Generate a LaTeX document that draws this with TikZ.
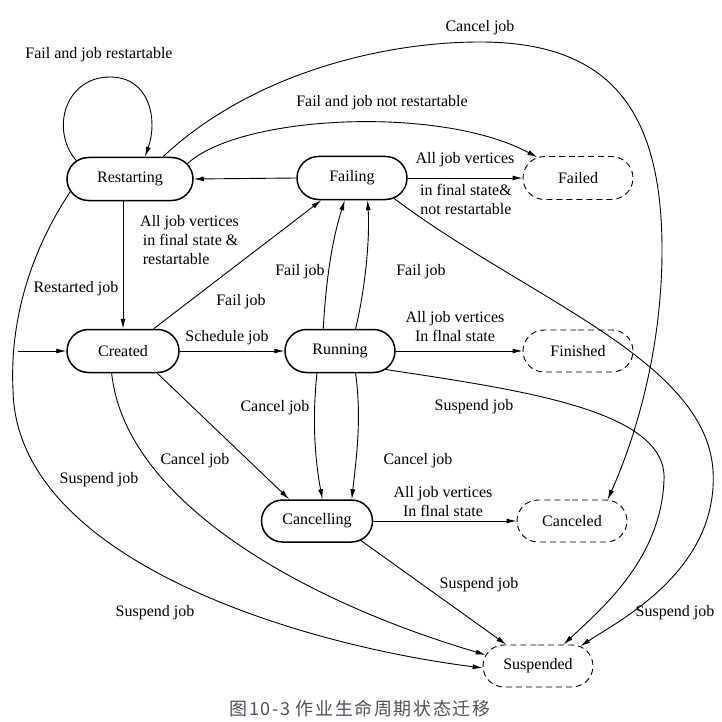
\documentclass[tikz,border=0pt]{standalone}
\usepackage{fontspec}
\setmainfont{Liberation Serif}
\newfontfamily\cjk[LetterSpace=9]{Noto Sans CJK SC}
\usetikzlibrary{shapes.misc,arrows.meta}
\definecolor{capgray}{HTML}{50505E}
\begin{document}
\begin{tikzpicture}[x=1pt,y=-1pt,
  state/.style={rounded rectangle, draw, line width=1.5pt, minimum width=110pt, minimum height=43pt, inner sep=0pt, font=\fontsize{16}{19}\selectfont},
  final/.style={state, line width=0.9pt, dash pattern=on 6pt off 4pt},
  lbl/.style={font=\fontsize{16}{19}\selectfont, inner sep=0pt, align=center},
  conn/.style={line width=0.9pt, -{Latex[length=10pt,width=5pt]}},
]
\useasboundingbox (0,0) rectangle (722,722);
% states
\node[state, minimum width=126pt] (restarting) at (130,179) {Restarting};
\node[state] (failing) at (352,178) {Failing};
\node[state, minimum width=112pt] (created) at (123,351) {Created};
\node[state] (running) at (340,351) {Running};
\node[state, minimum width=111pt, minimum height=42pt] (cancelling) at (317,521) {Cancelling};
\node[final] (failed) at (578,178) {Failed};
\node[final, minimum height=42pt] (finished) at (578,351) {Finished};
\node[final, minimum height=42pt] (canceled) at (572,521) {Canceled};
\node[final, minimum height=42pt] (suspended) at (538,666) {Suspended};
\coordinate (start) at (18,351);
% edges
\draw[conn] (start) -- (created.west);
\draw[conn] (restarting.161) .. controls (50,130) and (65,77) .. (110,77) .. controls (150,77) and (158,120) .. (restarting.56);
\draw[conn] (failing.west) -- (restarting.east);
\draw[conn] (restarting.15) .. controls (240,115) and (440,105) .. (failed.153);
\draw[conn] (restarting.34) .. controls (250,75) and (380,42) .. (480,42) .. controls (610,42) and (662,110) .. (662,250) .. controls (662,360) and (630,450) .. (canceled.31);
\draw[conn] (restarting.192) .. controls (25,260) and (10,330) .. (13,390) .. controls (16,560) and (300,645) .. (suspended.182);
\draw[conn] (restarting.south -| created.north) -- (created.north);
\draw[conn] (created.36) -- (failing.216);
\draw[conn] (created.east) -- (running.west);
\draw[conn] (created.-33) -- (cancelling.142);
\draw[conn] (created.243) .. controls (125,500) and (300,600) .. (suspended.168);
\draw[conn] (running.127) .. controls (326,280) and (332,240) .. (failing.252);
\draw[conn] (running.55) .. controls (365,290) and (370,240) .. (failing.305);
\draw[conn] (running.224) .. controls (312,420) and (315,460) .. (cancelling.76);
\draw[conn] (running.305) .. controls (362,420) and (356,460) .. (cancelling.32);
\draw[conn] (running.east) -- (finished.west);
\draw[conn] (running.-22) .. controls (520,390) and (668,410) .. (664,480) .. controls (661,560) and (600,610) .. (suspended.40);
\draw[conn] (failing.east) -- (failed.west);
\draw[conn] (failing.-26) .. controls (530,300) and (705,360) .. (713,470) .. controls (719,570) and (620,620) .. (suspended.25);
\draw[conn] (cancelling.east) -- (canceled.west);
\draw[conn] (cancelling.-24) -- (suspended.146);
% labels
\node[lbl] (l1) at (99,55) {Fail and job restartable};
\node[lbl] (l2) at (480,28) {Cancel job};
\node[lbl] (l3) at (382,103) {Fail and job not restartable};
\node[lbl] (l4) at (465,160) {All job vertices};
\node[lbl] (l5) at (466,199) {in final state\&\\not restartable};
\node[lbl, align=left, anchor=west] (l6) at (140,240) {All job vertices\\\,in final state \&\\\,restartable};
\node[lbl] (l7) at (76,289) {Restarted job};
\node[lbl] (l8) at (241,302) {Fail job};
\node[lbl] (l9) at (300,272) {Fail job};
\node[lbl] (l10) at (421,272) {Fail job};
\node[lbl] (l11) at (227,338) {Schedule job};
\node[lbl] (l12) at (455,327) {All job vertices\\In flnal state};
\node[lbl] (l13) at (474,407) {Suspend job};
\node[lbl] (l14) at (275,408) {Cancel job};
\node[lbl] (l15) at (195,461) {Cancel job};
\node[lbl] (l16) at (418,461) {Cancel job};
\node[lbl] (l17) at (99,480) {Suspend job};
\node[lbl] (l18) at (443,502) {All job vertices\\In flnal state};
\node[lbl] (l19) at (479,585) {Suspend job};
\node[lbl] (l20) at (675,613) {Suspend job};
\node[lbl] (l21) at (155,613) {Suspend job};
\node[font=\cjk\fontsize{18}{20}\selectfont, text=capgray, inner sep=0pt] (cap) at (360,709) {图10-3 作业生命周期状态迁移};
\end{tikzpicture}
\end{document}
